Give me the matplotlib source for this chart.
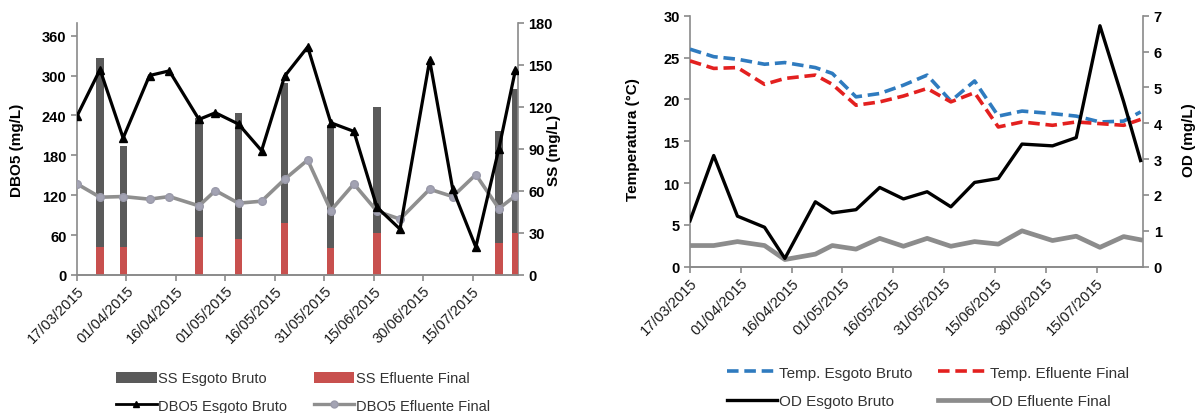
import datetime as dt
import matplotlib
matplotlib.use("Agg")
import matplotlib.pyplot as plt
import matplotlib.dates as mdates
from matplotlib.lines import Line2D
from matplotlib.patches import Patch

plt.rcParams['font.family'] = ['Liberation Sans', 'DejaVu Sans']

# ---------------- data ----------------
sample_dates = ["17/03/2015", "24/03/2015", "31/03/2015", "08/04/2015", "14/04/2015",
                "23/04/2015", "28/04/2015", "05/05/2015", "12/05/2015", "19/05/2015",
                "26/05/2015", "02/06/2015", "09/06/2015", "16/06/2015", "23/06/2015",
                "02/07/2015", "09/07/2015", "16/07/2015", "23/07/2015", "28/07/2015"]

dbo5_bruto = [239, 309, 206, 300, 307, 234, 244, 227, 187, 299,
              343, 229, 216, 102, 69, 323, 129, 42, 190, 308]
dbo5_final = [137, 117, 118, 114, 118, 104, 127, 108, 111, 144,
              173, 97, 137, 96, 84, 129, 118, 151, 100, 119]

ss_dates = ["24/03/2015", "31/03/2015", "23/04/2015", "05/05/2015", "19/05/2015",
            "02/06/2015", "16/06/2015", "23/07/2015", "28/07/2015"]
ss_bruto = [155, 92, 112, 116, 137, 107, 120, 103, 133]
ss_final = [20, 20, 27, 26, 37, 19, 30, 23, 30]

temp_bruto = [26.0, 25.1, 24.8, 24.2, 24.4, 23.8, 23.1, 20.3, 20.7, 21.7,
              22.9, 19.8, 22.2, 18.0, 18.6, 18.3, 18.0, 17.3, 17.4, 18.5]
temp_final = [24.6, 23.7, 23.8, 21.8, 22.5, 22.9, 21.8, 19.3, 19.7, 20.4,
              21.3, 19.7, 20.8, 16.7, 17.3, 16.9, 17.3, 17.1, 16.9, 17.6]
od_bruto = [1.28, 3.10, 1.41, 1.10, 0.23, 1.81, 1.50, 1.59, 2.21, 1.89,
            2.09, 1.67, 2.35, 2.46, 3.42, 3.37, 3.60, 6.72, 4.60, 2.96]
od_final = [0.59, 0.59, 0.70, 0.59, 0.20, 0.35, 0.59, 0.49, 0.79, 0.57,
            0.79, 0.57, 0.70, 0.63, 1.00, 0.73, 0.85, 0.54, 0.84, 0.75]

tick_dates = ["17/03/2015", "01/04/2015", "16/04/2015", "01/05/2015", "16/05/2015",
              "31/05/2015", "15/06/2015", "30/06/2015", "15/07/2015"]


def to_dt(s):
    return dt.datetime.strptime(s, "%d/%m/%Y")


x = [to_dt(s) for s in sample_dates]
xs = [to_dt(s) for s in ss_dates]
xt = [to_dt(s) for s in tick_dates]
x0 = to_dt("17/03/2015")
x1 = x0 + dt.timedelta(days=133.8)

AXIS_C = "#8a8a8a"


def style_axes(ax, ax2):
    for a in (ax, ax2):
        a.spines["top"].set_visible(False)
        for side in ("left", "right", "bottom"):
            a.spines[side].set_color(AXIS_C)
            a.spines[side].set_linewidth(1.2)
        a.tick_params(axis="both", colors=AXIS_C, length=4, width=1.2,
                      direction="out")
        a.tick_params(axis="y", labelcolor="black")
        for lab in a.get_yticklabels():
            lab.set_fontsize(10.5)
            lab.set_fontweight("bold")
    ax2.spines["left"].set_visible(False)
    ax.spines["right"].set_visible(False)
    ax.set_xticks(xt)
    ax.xaxis.set_major_formatter(mdates.DateFormatter("%d/%m/%Y"))
    ax.tick_params(axis="x", labelcolor="#1a1a1a", labelsize=10.5, pad=2)
    for lab in ax.get_xticklabels():
        lab.set_rotation(45)
        lab.set_ha("right")
        lab.set_rotation_mode("anchor")
    ax.set_xlim(x0, x1)


fig = plt.figure(figsize=(12, 4.14), dpi=100)

# ---------------- left: DBO5 and SS ----------------
axL = fig.add_axes([77 / 1200, 1 - 276 / 414, 441 / 1200, 252 / 414])
axL2 = axL.twinx()
axL.set_zorder(axL2.get_zorder() + 1)
axL.patch.set_visible(False)

bw = dt.timedelta(days=2.2)
axL2.bar(xs, ss_bruto, width=bw, color="#5a5a5a", zorder=2)
axL2.bar(xs, ss_final, width=bw, color="#c8504e", zorder=3)
axL2.set_ylim(0, 180)
axL2.set_yticks(range(0, 181, 30))

axL.plot(x, dbo5_bruto, color="black", lw=2.3, marker="^", ms=6,
         markerfacecolor="black", zorder=4)
axL.plot(x, dbo5_final, color="#8f8f8f", lw=2.6, marker="o", ms=5.5,
         markerfacecolor="#a3a3b3", markeredgecolor="#9a9aaa", zorder=3)
axL.set_ylim(0, 379)
axL.set_yticks(range(0, 361, 60))
style_axes(axL, axL2)

axL.set_ylabel("DBO5 (mg/L)", fontsize=11, fontweight="bold")
axL.yaxis.set_label_coords(-0.120, 0.5)
axL2.set_ylabel("SS (mg/L)", fontsize=11, fontweight="bold")
axL2.yaxis.set_label_coords(1.066, 0.5)

handlesL = [
    Patch(facecolor="#5a5a5a", label="SS Esgoto Bruto"),
    Line2D([], [], color="black", lw=2, marker="^", ms=5, label="DBO5 Esgoto Bruto"),
    Patch(facecolor="#c8504e", label="SS Efluente Final"),
    Line2D([], [], color="#8f8f8f", lw=2.4, marker="o", ms=5,
           markerfacecolor="#a3a3b3", markeredgecolor="#9a9aaa",
           label="DBO5 Efluente Final"),
]
legL = fig.legend(handles=handlesL, ncol=2, loc="center",
                  bbox_to_anchor=(303 / 1200, 1 - 393 / 414), frameon=False,
                  fontsize=10.5, handlelength=2.8, handleheight=0.85,
                  handletextpad=0.1, columnspacing=1.8, labelspacing=0.9)
for t in legL.get_texts():
    t.set_color("#333333")

# ---------------- right: temperature and OD ----------------
axR = fig.add_axes([690 / 1200, 1 - 267.7 / 414, 453.3 / 1200, 251 / 414])
axR2 = axR.twinx()

dash = (0, (3.2, 1.6))
axR.plot(x, temp_bruto, color="#2f7bbf", lw=2.6, linestyle=dash, zorder=3)
axR.plot(x, temp_final, color="#e3201f", lw=2.6, linestyle=dash, zorder=3)
axR.set_ylim(0, 30)
axR.set_yticks(range(0, 31, 5))

axR2.plot(x, od_bruto, color="black", lw=2.4, zorder=3)
axR2.plot(x, od_final, color="#8c8c8c", lw=3.4, zorder=2)
axR2.set_ylim(0, 7)
axR2.set_yticks(range(0, 8))
style_axes(axR, axR2)

axR.set_ylabel("Temperatura (°C)", fontsize=11, fontweight="bold")
axR.yaxis.set_label_coords(-0.110, 0.51)
axR2.set_ylabel("OD (mg/L)", fontsize=11, fontweight="bold")
axR2.yaxis.set_label_coords(1.085, 0.51)

handlesR = [
    Line2D([], [], color="#2f7bbf", lw=2.6, linestyle=dash, label="Temp. Esgoto Bruto"),
    Line2D([], [], color="black", lw=2.4, label="OD Esgoto Bruto"),
    Line2D([], [], color="#e3201f", lw=2.6, linestyle=dash, label="Temp. Efluente Final"),
    Line2D([], [], color="#8c8c8c", lw=3.4, label="OD Efluente Final"),
]
legR = fig.legend(handles=handlesR, ncol=2, loc="center",
                  bbox_to_anchor=(928 / 1200, 1 - 388 / 414), frameon=False,
                  fontsize=11, handlelength=3.3, handletextpad=0.1,
                  columnspacing=1.7, labelspacing=0.95)
for t in legR.get_texts():
    t.set_color("#333333")

fig.savefig("out.png", dpi=100)
